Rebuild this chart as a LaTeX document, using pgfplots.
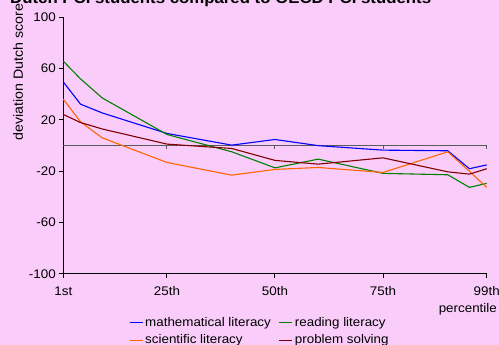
\documentclass[border=0pt]{standalone}
\usepackage{fontspec}
\setmainfont{Liberation Sans}[FakeStretch=1.07]
\usepackage{pgfplots}
\pgfplotsset{compat=1.18}
\usepackage{pgfplotstable}
\definecolor{bgpink}{RGB}{249,204,249}
\definecolor{cmath}{RGB}{0,0,255}
\definecolor{cread}{RGB}{0,128,0}
\definecolor{csci}{RGB}{255,102,0}
\definecolor{cprob}{RGB}{128,0,0}
\definecolor{zeroline}{RGB}{90,90,90}
\pgfplotstableread{
p math read sci prob
1 49.6 65.8 36.2 24.3
5 32.3 52.0 18.5 18.0
10 25.5 37.2 6.1 13.0
25 9.5 8.7 -13.1 1.2
40 0.4 -4.8 -23.0 -2.2
50 4.8 -17.3 -18.5 -11.5
60 0.0 -10.5 -17.0 -14.4
75 -3.5 -21.6 -20.9 -9.5
90 -4.0 -22.7 -4.8 -20.4
95 -18.0 -32.5 -20.0 -22.2
99 -15.0 -29.4 -32.5 -18.0
}\datatable
\newcommand{\lblfont}{\fontsize{12.5}{14}\selectfont}
\begin{document}
\begin{tikzpicture}
\fill[bgpink] (0pt,0pt) rectangle (499pt,345pt);
\useasboundingbox (0pt,0pt) rectangle (499pt,345pt);
\begin{axis}[
  at={(63.3pt,71pt)}, anchor=south west,
  scale only axis, width=423.4pt, height=256.7pt,
  xmin=1, xmax=99, ymin=-100, ymax=100,
  axis x line*=bottom, axis y line*=left,
  axis line style={black, line width=1pt},
  xtick={1,25,50,75,99}, xticklabels={1st,25th,50th,75th,99th},
  ytick={-100,-60,-20,20,60,100}, yticklabels={-100,-60,-20,20,60,100},
  tick align=outside, major tick length=4pt,
  tick style={black, line width=1pt},
  ticklabel style={font=\lblfont},
  xticklabel style={yshift=-5pt},
  clip=false,
  legend columns=2,
  legend style={at={(0.155,-0.16)}, anchor=north west, draw=none, fill=none,
    font=\lblfont, inner sep=0pt, row sep=3pt,
    /tikz/every even column/.append style={column sep=6pt}},
  legend cell align=left,
  legend image code/.code={\draw[#1] (0pt,0pt) -- (13pt,0pt);},
]
\addplot[zeroline, line width=1pt, forget plot] coordinates {(1,0) (99,0)};
\draw[zeroline, line width=1pt] (axis cs:25,0) -- ([yshift=-3pt]axis cs:25,0);
\draw[zeroline, line width=1pt] (axis cs:50,0) -- ([yshift=-3pt]axis cs:50,0);
\draw[zeroline, line width=1pt] (axis cs:75,0) -- ([yshift=-3pt]axis cs:75,0);
\draw[zeroline, line width=1pt] (axis cs:99,0) -- ([yshift=-3pt]axis cs:99,0);
\addplot[cmath, line width=1.1pt] table[x=p, y=math] {\datatable};
\addlegendentry{mathematical literacy}
\addplot[cread, line width=1.1pt] table[x=p, y=read] {\datatable};
\addlegendentry{reading literacy}
\addplot[csci, line width=1.1pt] table[x=p, y=sci] {\datatable};
\addlegendentry{scientific literacy}
\addplot[cprob, line width=1.1pt] table[x=p, y=prob] {\datatable};
\addlegendentry{problem solving}
\end{axis}
\node[rotate=90, font=\fontsize{13.3}{15}\selectfont] at (18pt,273pt) {deviation Dutch score};
\node[anchor=east, font=\lblfont, inner sep=0pt] at (497pt,36pt) {percentile};
\node[anchor=base west, font=\fontsize{15.7}{18}\selectfont\bfseries, inner sep=0pt] at (10pt,341pt) {Dutch PCI students compared to OECD PCI students};
\end{tikzpicture}
\end{document}
